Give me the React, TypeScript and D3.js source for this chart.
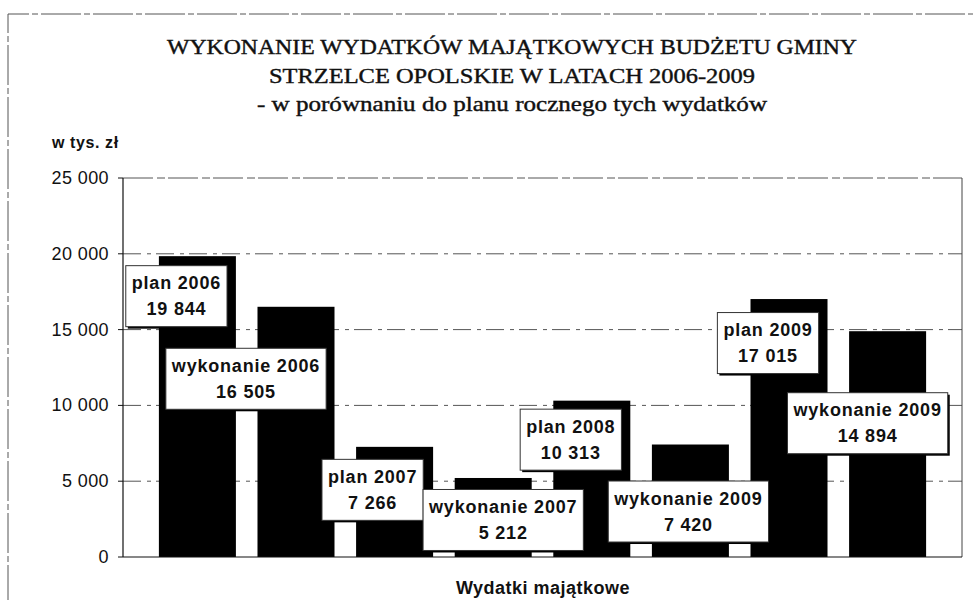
import React from 'react'
import * as d3 from 'd3'

// chart data
const seriesNames = ['plan 2006', 'wykonanie 2006', 'plan 2007', 'wykonanie 2007', 'plan 2008', 'wykonanie 2009', 'plan 2009', 'wykonanie 2009']
const values = [19844, 16505, 7266, 5212, 10313, 7420, 17015, 14894]
const yTicks = [0, 5000, 10000, 15000, 20000, 25000]
const titleLines = ['WYKONANIE WYDATKÓW MAJĄTKOWYCH BUDŻETU GMINY', 'STRZELCE OPOLSKIE W LATACH 2006-2009', '-  w porównaniu do planu rocznego tych wydatków']
const unitLabel = 'w tys. zł'
const categoryLabel = 'Wydatki majątkowe'

// manual label placement (px offset of label centre from the bar top centre)
const labelOffsets: [number, number][] = [[-21, 40], [-50, 72], [-22, 43], [10, 42], [-21, 39], [-2, 67], [-21, 44], [-20, 92]]
// title line widths as measured on the picture
const titleWidths = [690, 486, 510]

const W = 973
const H = 600
const margin = { left: 123, right: 11, top: 178, bottom: 43 }

const locale = d3.formatLocale({ decimal: ',', thousands: ' ', grouping: [3], currency: ['', ''] })
const fmt = locale.format(',d')

const SANS = '"Liberation Sans", Arial, sans-serif'
const SERIF = '"Liberation Serif", "Times New Roman", serif'
const LABEL_SPACING = 0.8

let ctx: CanvasRenderingContext2D | null = null
const textWidth = (s: string, font: string) => {
  if (!ctx) ctx = document.createElement('canvas').getContext('2d')
  if (!ctx) return s.length * 9
  ctx.font = font
  return ctx.measureText(s).width + s.length * LABEL_SPACING
}

export default function App() {
  const x = d3
    .scaleBand<number>()
    .domain(d3.range(values.length))
    .range([margin.left, W - margin.right])
    .paddingInner(0.219)
    .paddingOuter(0.364)

  const y = d3.scaleLinear().domain([0, 25000]).range([H - margin.bottom, margin.top])

  const x0 = margin.left
  const x1 = W - margin.right

  return (
    <svg width={W} height={H} style={{ position: 'absolute', left: 0, top: 0, background: '#fff' }}>
      {/* outer frame of the chart */}
      <path d={`M8,${H + 5} V14 H${W + 5}`} fill="none" stroke="#555" strokeWidth={1} strokeDasharray="40 3 6 3" />

      {titleLines.map((t, i) => (
        <text
          key={i}
          x={512}
          y={54 + i * 28.5}
          textAnchor="middle"
          fontFamily={SERIF}
          fontSize={21}
          textLength={titleWidths[i]}
          lengthAdjust="spacingAndGlyphs"
          fill="#111"
          stroke="#111"
          strokeWidth={0.4}
        >
          {t}
        </text>
      ))}

      <text x={52} y={148} fontFamily={SANS} fontWeight="bold" fontSize={16} letterSpacing={0.6} fill="#111">
        {unitLabel}
      </text>

      {/* gridlines */}
      {yTicks.map(t => (
        <g key={t}>
          {t > 0 && (
            <line x1={x0} x2={x1} y1={y(t)} y2={y(t)} stroke="#555" strokeWidth={1} strokeDasharray={t === 25000 ? '30 4 8 3' : '18 6 4 5'} />
          )}
          <line x1={x0 - 5} x2={x0} y1={y(t)} y2={y(t)} stroke="#111" />
          <text x={x0 - 14} y={y(t) + 6} textAnchor="end" fontFamily={SANS} fontSize={18} letterSpacing={0.4} fill="#111">
            {fmt(t)}
          </text>
        </g>
      ))}
      <line x1={x1} x2={x1} y1={y(25000)} y2={y(0)} stroke="#444" strokeWidth={1} />

      {/* bars */}
      {values.map((v, i) => (
        <rect key={i} x={x(i)} y={y(v)} width={x.bandwidth()} height={y(0) - y(v)} fill="#000" />
      ))}

      {/* axes */}
      <line x1={x0} x2={x0} y1={y(25000)} y2={y(0)} stroke="#111" strokeWidth={1.2} />
      <line x1={x0} x2={x1} y1={y(0)} y2={y(0)} stroke="#111" strokeWidth={1.2} />

      {/* data labels */}
      {values.map((v, i) => {
        const font = `bold 18px ${SANS}`
        const tw = Math.max(textWidth(seriesNames[i], font), textWidth(fmt(v), font))
        const bw = tw + 12
        const bh = 61
        const cx = (x(i) as number) + x.bandwidth() / 2 + labelOffsets[i][0]
        const cy = y(v) + labelOffsets[i][1]
        return (
          <g key={i}>
            <rect x={cx - bw / 2 + 2} y={cy - bh / 2 + 2} width={bw} height={bh} fill="#000" />
            <rect x={cx - bw / 2} y={cy - bh / 2} width={bw} height={bh} fill="#fff" stroke="#333" strokeWidth={1} />
            <text x={cx} y={cy - 7} textAnchor="middle" fontFamily={SANS} fontWeight="bold" fontSize={18} letterSpacing={LABEL_SPACING} fill="#111">
              {seriesNames[i]}
            </text>
            <text x={cx} y={cy + 19} textAnchor="middle" fontFamily={SANS} fontWeight="bold" fontSize={18} letterSpacing={LABEL_SPACING} fill="#111">
              {fmt(v)}
            </text>
          </g>
        )
      })}

      <text x={543} y={594} textAnchor="middle" fontFamily={SANS} fontWeight="bold" fontSize={18} letterSpacing={0.5} fill="#111">
        {categoryLabel}
      </text>
    </svg>
  )
}
